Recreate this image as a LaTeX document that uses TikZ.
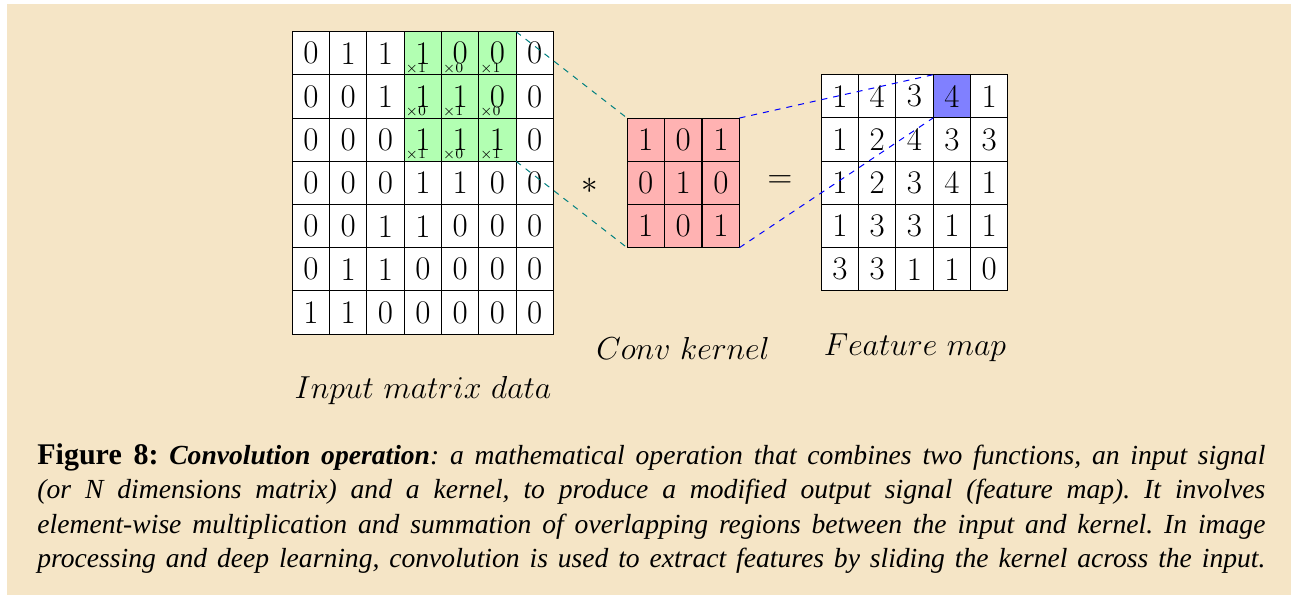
\RequirePackage{fix-cm}
\documentclass[tikz,border=0pt]{standalone}
\usepackage{fontspec}
\newfontfamily\capfont{Liberation Serif}
\definecolor{wheatbg}{RGB}{245,229,198}
\begin{document}
\begin{tikzpicture}[x=0.5pt,y=-0.5pt,
  cell/.style={draw=black, line width=0.5pt, minimum width=18.65pt, minimum height=21.6pt,
    inner sep=0pt, outer sep=0pt, anchor=north west, font=\fontsize{16.5}{17}\selectfont},
  incell/.style={cell, fill=white},
  gcell/.style={cell, fill=green!30},
  kcell/.style={cell, fill=red!30},
  fcell/.style={cell, fill=white},
  hcell/.style={cell, fill=blue!50},
  mult/.style={font=\fontsize{7}{8}\selectfont, inner sep=0pt, anchor=south west},
  tealdash/.style={dashed, draw=teal, line width=0.5pt},
  bluedash/.style={dashed, draw=blue, line width=0.5pt},
  lbl/.style={font=\fontsize{15.9}{19}\selectfont, inner sep=0pt},
  op/.style={font=\fontsize{16.5}{18}\selectfont, inner sep=0pt},
  capline/.style={anchor=base west, inner sep=0pt, font=\capfont\frenchspacing\fontsize{13.8}{17}\selectfont}
]
\useasboundingbox (0,0) rectangle (1291,595);
\fill[white] (0,0) rectangle (1291,595);
\fill[wheatbg] (7,4) rectangle (1291,595);

% input matrix
\foreach \row [count=\r from 0] in {{0,1,1,1,0,0,0},{0,0,1,1,1,0,0},{0,0,0,1,1,1,0},{0,0,0,1,1,0,0},{0,0,1,1,0,0,0},{0,1,1,0,0,0,0},{1,1,0,0,0,0,0}}{
  \foreach \v [count=\c from 0] in \row {
    \pgfmathtruncatemacro\isg{((\r<3)&&(\c>2)&&(\c<6))?1:0}
    \ifnum\isg=1 \def\st{gcell}\else\def\st{incell}\fi
    \node[\st] (in-\r-\c) at (292.3+37.3*\c, 31.7+43.2*\r) {\v};
  }
}
\foreach \r/\c/\m in {0/3/1,0/4/0,0/5/1,1/3/0,1/4/1,1/5/0,2/3/1,2/4/0,2/5/1}{
  \node[mult] (m-\r-\c) at ([xshift=0.5pt,yshift=0.2pt]in-\r-\c.south west) {$\times$\m};
}

% kernel
\foreach \row [count=\r from 0] in {{1,0,1},{0,1,0},{1,0,1}}{
  \foreach \v [count=\c from 0] in \row {
    \node[kcell] (k-\r-\c) at (627+37.6*\c, 118+43.2*\r) {\v};
  }
}

% feature map
\foreach \row [count=\r from 0] in {{1,4,3,4,1},{1,2,4,3,3},{1,2,3,4,1},{1,3,3,1,1},{3,3,1,1,0}}{
  \foreach \v [count=\c from 0] in \row {
    \pgfmathtruncatemacro\ish{((\r==0)&&(\c==3))?1:0}
    \ifnum\ish=1 \def\st{hcell}\else\def\st{fcell}\fi
    \node[\st] (f-\r-\c) at (821.3+37.3*\c, 74.7+43.2*\r) {\v};
  }
}

% operators
\node[op] (star) at (590,186) {$*$};
\node[op] (eq) at (780,182) {$=$};

% connectors
\draw[tealdash] (in-0-5.north east) -- (k-0-0.north west);
\draw[tealdash] (in-2-5.south east) -- (k-2-0.south west);
\draw[bluedash] (k-0-2.north east) -- (f-0-3.north west);
\draw[bluedash] (k-2-2.south east) -- (f-0-3.south west);

% labels
\node[lbl] (lin) at (423,391) {$Input\ matrix\ data$};
\node[lbl] (lk) at (683,348) {$Conv\ kernel$};
\node[lbl] (lf) at (915,348) {$Feature\ map$};

% caption
\node[capline] (cap1) at (37,464) {\makebox[614pt][s]{{\fontsize{15}{17}\selectfont\textbf{Figure 8:}} \textbf{\textit{Convolution operation}}\textit{: a mathematical operation that combines two functions, an input signal}}};
\node[capline] (cap2) at (37,498.5) {\makebox[614pt][s]{\textit{(or N dimensions matrix) and a kernel, to produce a modified output signal (feature map). It involves}}};
\node[capline] (cap3) at (37,533) {\makebox[614pt][s]{\textit{element-wise multiplication and summation of overlapping regions between the input and kernel. In image}}};
\node[capline] (cap4) at (37,567.5) {\makebox[614pt][s]{\textit{processing and deep learning, convolution is used to extract features by sliding the kernel across the input.}}};
\end{tikzpicture}
\end{document}
